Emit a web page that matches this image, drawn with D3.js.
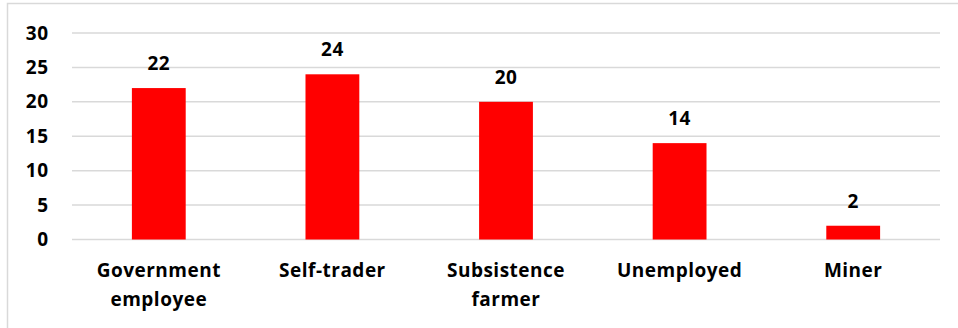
<!DOCTYPE html>
<html><head>
<meta charset="utf-8">
<script src="https://cdn.jsdelivr.net/npm/d3@7"></script>
<style>
  body { margin: 0; background: #fff; }
  svg text { font-family: "Open Sans", sans-serif; font-weight: bold; fill: #000; }
</style>
</head>
<body>
<svg id="chart" width="958" height="328"></svg>
<script>
// Occupation counts
const categories = [
  ["Government", "employee"],
  ["Self-trader"],
  ["Subsistence", "farmer"],
  ["Unemployed"],
  ["Miner"]
];
const values = [22, 24, 20, 14, 2];
const yTicks = [0, 5, 10, 15, 20, 25, 30];

const svg = d3.select("#chart");
const names = categories.map(c => c.join(" "));

// frame around the chart area
svg.append("rect")
  .attr("x", 7.5).attr("y", 3.5)
  .attr("width", 1000).attr("height", 1000)
  .attr("fill", "none").attr("stroke", "#d9d9d9").attr("stroke-width", 1.5);

const x = d3.scaleBand().domain(names).range([72, 940]).padding(0);
const y = d3.scaleLinear().domain([0, 30]).range([239.5, 33]);
const barW = x.bandwidth() * 0.31;

// gridlines
svg.append("g").selectAll("line").data(yTicks).join("line")
  .attr("x1", 72).attr("x2", 940)
  .attr("y1", d => y(d)).attr("y2", d => y(d))
  .attr("stroke", "#d9d9d9").attr("stroke-width", 1.5);

// y axis labels
const yAxis = d3.axisLeft(y).tickValues(yTicks).tickSize(0).tickPadding(0);
const gy = svg.append("g").attr("transform", "translate(48.5,0)").call(yAxis);
gy.select(".domain").remove();
gy.selectAll("text")
  .attr("font-family", "Open Sans").attr("font-weight", "bold")
  .attr("font-size", 19).attr("letter-spacing", 0.5).attr("fill", "#000");

// bars
svg.append("g").selectAll("rect").data(values).join("rect")
  .attr("x", (d, i) => x(names[i]) + x.bandwidth() / 2 - barW / 2)
  .attr("width", barW)
  .attr("y", d => y(d))
  .attr("height", d => y(0) - y(d))
  .attr("fill", "#ff0000");

// value labels
svg.append("g").selectAll("text").data(values).join("text")
  .attr("x", (d, i) => x(names[i]) + x.bandwidth() / 2)
  .attr("y", d => y(d) - 18)
  .attr("text-anchor", "middle")
  .attr("font-size", 19).attr("letter-spacing", 0.5)
  .text(d => d);

// category labels
const cl = svg.append("g").selectAll("text").data(categories).join("text")
  .attr("x", (d, i) => x(names[i]) + x.bandwidth() / 2)
  .attr("y", 277.3)
  .attr("text-anchor", "middle")
  .attr("font-size", 19).attr("letter-spacing", 0.5);
cl.selectAll("tspan").data(d => d).join("tspan")
  .attr("x", function () { return this.parentNode.getAttribute("x"); })
  .attr("dy", (d, i) => i === 0 ? 0 : 28.7)
  .text(d => d);
</script>
</body></html>
